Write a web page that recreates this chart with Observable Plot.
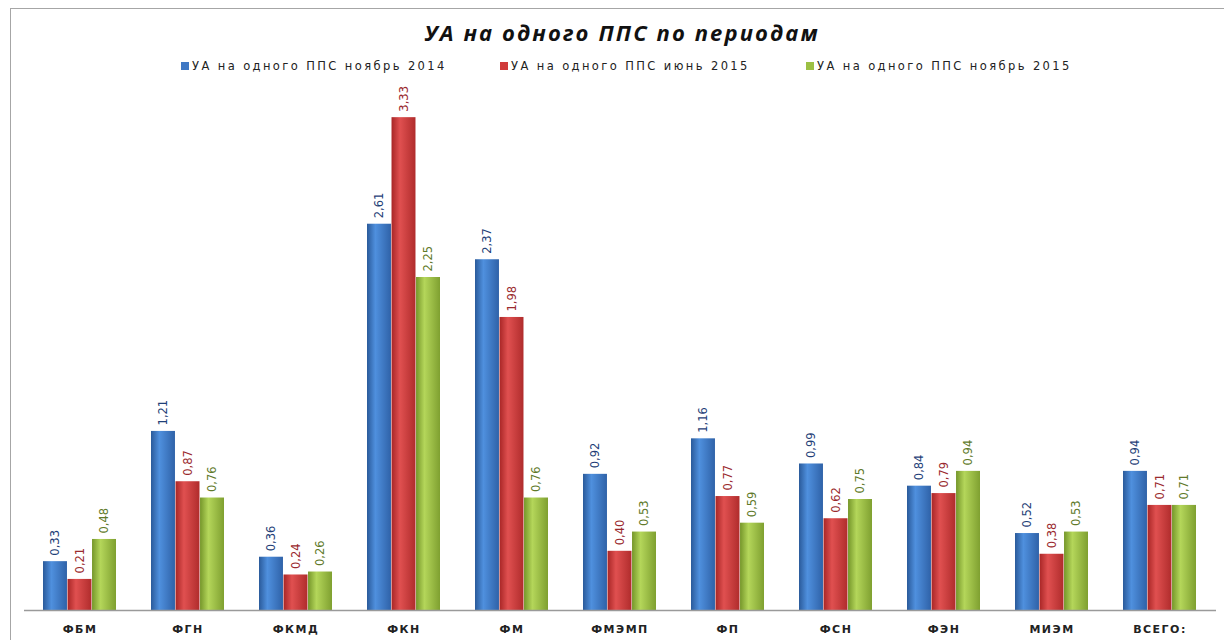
<!DOCTYPE html>
<html>
<head>
<meta charset="utf-8">
<script src="https://cdn.jsdelivr.net/npm/d3@7"></script>
<script src="https://cdn.jsdelivr.net/npm/@observablehq/plot@0.6"></script>
<style>
  html, body { margin: 0; padding: 0; background: #fff; overflow: hidden; width: 1224px; height: 640px; }
  #frame { position: absolute; left: 10px; top: 8px; width: 1300px; height: 700px; border: 1px solid #a6a6a6; }
  #title { position: absolute; left: 0; top: 17px; width: 1244px; text-align: center; font-family: "Open Sans", sans-serif; font-weight: bold; font-style: italic; font-size: 22px; letter-spacing: 2.1px; color: #111; }
  #legend { position: absolute; left: 0; top: 59px; width: 1224px; height: 20px; font-family: "DejaVu Sans", sans-serif; font-size: 11.5px; color: #222; letter-spacing: 2.4px; }
  .item { position: absolute; top: 0; white-space: nowrap; }
  .sw { display: inline-block; width: 8px; height: 8px; margin-right: 3px; vertical-align: 0px; }
  #chart { position: absolute; left: 0; top: 80px; }
</style>
</head>
<body>
<div id="frame"></div>
<div id="title">УА на одного ППС по периодам</div>
<div id="legend"></div>
<div id="chart"></div>
<script>
const categories = ["ФБМ", "ФГН", "ФКМД", "ФКН", "ФМ", "ФМЭМП", "ФП", "ФСН", "ФЭН", "МИЭМ", "ВСЕГО:"];
const seriesNames = ["УА на одного ППС ноябрь 2014", "УА на одного ППС июнь 2015", "УА на одного ППС ноябрь 2015"];
const nov2014 = [0.33, 1.21, 0.36, 2.61, 2.37, 0.92, 1.16, 0.99, 0.84, 0.52, 0.94];
const jun2015 = [0.21, 0.87, 0.24, 3.33, 1.98, 0.40, 0.77, 0.62, 0.79, 0.38, 0.71];
const nov2015 = [0.48, 0.76, 0.26, 2.25, 0.76, 0.53, 0.59, 0.75, 0.94, 0.53, 0.71];

const seriesValues = [nov2014, jun2015, nov2015];
const barColors = [["#2a5a9a", "#4f90de", "#2f62a8"], ["#a82626", "#e05050", "#b02c2c"], ["#75962a", "#b4d65a", "#7fa030"]];
const swatchColors = ["#3f78c4", "#d03a3a", "#9cc044"];
const labelColors = ["#1f3f78", "#9a2a2e", "#5f7a2a"];
const legendX = [181, 500, 806];

// legend
const legend = document.getElementById("legend");
seriesNames.forEach((name, i) => {
  const d = document.createElement("div");
  d.className = "item";
  d.style.left = legendX[i] + "px";
  d.innerHTML = `<span class="sw" style="background:${swatchColors[i]}"></span>${name}`;
  legend.appendChild(d);
});

const W = 1224, H = 560, ML = 24, MR = 8, MT = 12, MB = 30;
const pIn = 0.32, pOut = 0.17;
const bw = d3.scaleBand().domain(categories).range([ML, W - MR]).paddingInner(pIn).paddingOuter(pOut).bandwidth();
const third = bw / 3;

const data = [];
seriesValues.forEach((vals, s) => vals.forEach((v, k) => data.push({cat: categories[k], s, v})));
const fmt = v => v.toFixed(2).replace(".", ",");

const marks = [];
for (let s = 0; s < 3; s++) {
  const sub = data.filter(d => d.s === s);
  marks.push(Plot.barY(sub, {
    x: "cat", y: "v", fill: `url(#grad${s})`,
    insetLeft: s * third, insetRight: (2 - s) * third
  }));
  marks.push(Plot.text(sub, {
    x: "cat", y: "v", text: d => fmt(d.v), rotate: -90, textAnchor: "start",
    dx: (s - 1) * third, dy: -6, fill: labelColors[s],
    fontSize: 11.5, fontFamily: "DejaVu Sans, sans-serif"
  }));
}
marks.push(Plot.ruleY([0], {stroke: "#9a9a9a", strokeWidth: 1.5}));
marks.push(Plot.axisX({anchor: "bottom", tickSize: 0, tickPadding: 15, fontSize: 11, fontWeight: "bold", fontFamily: "DejaVu Sans, sans-serif", fill: "#222"}));

const plot = Plot.plot({
  width: W, height: H,
  marginLeft: ML, marginRight: MR, marginTop: MT, marginBottom: MB,
  x: {domain: categories, paddingInner: pIn, paddingOuter: pOut, label: null},
  y: {domain: [0, 3.5], axis: null},
  style: {background: "transparent", overflow: "visible"},
  marks
});

// gradient definitions for cylinder-like bars
const svg = d3.select(plot);
const defs = svg.insert("defs", ":first-child");
barColors.forEach((c, s) => {
  const g = defs.append("linearGradient").attr("id", `grad${s}`).attr("x1", "0").attr("x2", "1").attr("y1", "0").attr("y2", "0");
  g.append("stop").attr("offset", "0%").attr("stop-color", c[0]);
  g.append("stop").attr("offset", "35%").attr("stop-color", c[1]);
  g.append("stop").attr("offset", "100%").attr("stop-color", c[2]);
});
svg.selectAll("g[aria-label='x-axis tick label'] text").style("letter-spacing", "1.5px");
document.getElementById("chart").appendChild(plot);
</script>
</body>
</html>
